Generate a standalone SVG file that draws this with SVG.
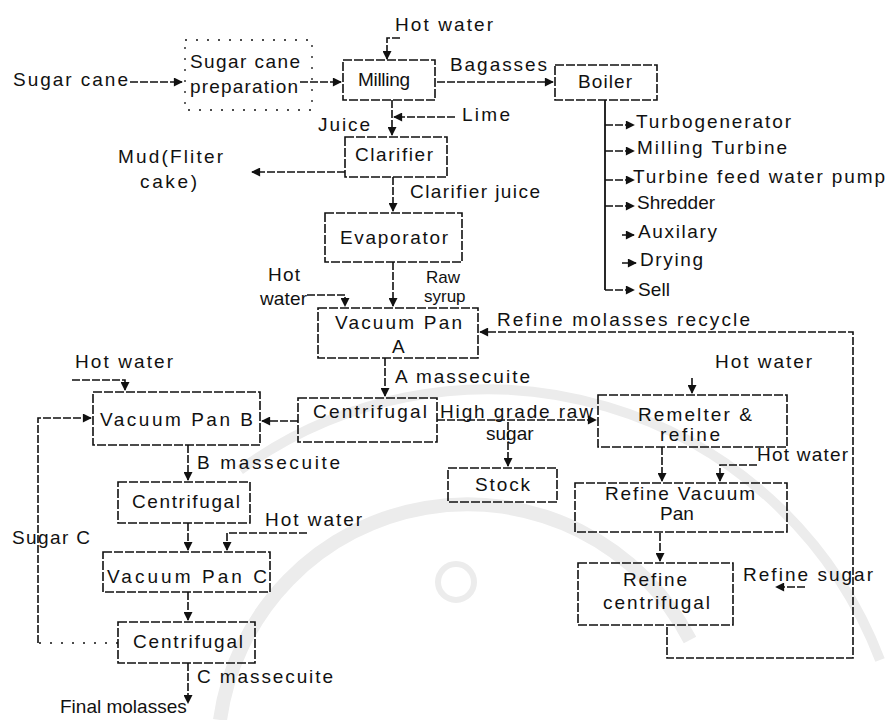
<svg xmlns="http://www.w3.org/2000/svg" width="889" height="720" viewBox="0 0 889 720">
<defs>
<style>
text{font-family:"Liberation Sans",Arial,sans-serif;font-size:19px;fill:#111;}
.sm{font-size:17px;}
.box{fill:none;stroke:#111;stroke-width:1.6;stroke-dasharray:9 2;}
.faint{fill:none;stroke:#111;stroke-width:1.3;stroke-dasharray:2 9;}
.c{fill:none;stroke:#111;stroke-width:1.6;stroke-dasharray:8 2;}
.ca{fill:none;stroke:#111;stroke-width:1.6;stroke-dasharray:8 2;marker-end:url(#ah);}
.s{fill:none;stroke:#111;stroke-width:1.8;}
.wm{fill:none;stroke:#ececec;}
</style>
<marker id="ah" viewBox="0 0 10 10" refX="9" refY="5" markerWidth="10" markerHeight="9" markerUnits="userSpaceOnUse" orient="auto">
<path d="M0,0 L10,5 L0,10 z" fill="#111"/>
</marker>
</defs>
<rect width="889" height="720" fill="#fff"/>

<g id="watermark">
<path class="wm" stroke-width="14" d="M220,720 A250,250 0 0 1 690,640"/>
<path class="wm" stroke-width="10" d="M240,470 A420,420 0 0 1 880,660"/>
<circle class="wm" stroke-width="6" cx="456" cy="582" r="18"/>
</g>

<g id="connectors">
<path class="ca" d="M130,82 H182"/>
<path class="ca" d="M300,82 H341"/>
<path class="ca" d="M400,38 H387 V59"/>
<path class="ca" d="M437,82 H553"/>
<path class="ca" d="M455,117 H394"/>
<path class="ca" d="M392,100 V135"/>
<path class="ca" d="M345,172 H252"/>
<path class="ca" d="M393,177 V211"/>
<path class="s" d="M605,100 V290"/>
<path class="ca" d="M605,125 H634"/>
<path class="ca" d="M605,151 H634"/>
<path class="ca" d="M605,180 H634"/>
<path class="ca" d="M605,206 H634"/>
<path class="ca" d="M622,235 H634"/>
<path class="ca" d="M622,263 H636"/>
<path class="ca" d="M605,290 H634"/>
<path class="ca" d="M393,262 V306"/>
<path class="ca" d="M307,295 H345 V306"/>
<path class="ca" d="M385,358 V396"/>
<path class="ca" d="M298,421 H262"/>
<path class="ca" d="M437,420 H596"/>
<path class="ca" d="M508,422 V466"/>
<path class="ca" d="M692,378 V393"/>
<path class="ca" d="M662,447 V481"/>
<path class="ca" d="M757,465 H720 V481"/>
<path class="ca" d="M660,533 V561"/>
<path class="ca" d="M805,587 H776"/>
<path class="ca" d="M667,627 V658 H853 V332 H480"/>
<path class="ca" d="M188,445 V480"/>
<path class="faint" d="M118,643 H38"/>
<path class="ca" d="M38,643 V418 H91"/>
<path class="ca" d="M72,380 H125 V390"/>
<path class="ca" d="M188,523 V550"/>
<path class="ca" d="M307,533 H227 V550"/>
<path class="ca" d="M188,592 V620"/>
<path class="ca" d="M188,663 V703"/>
</g>

<g id="sugar-cane"><text x="13" y="86" textLength="115">Sugar cane</text></g>
<g id="preparation">
<rect class="faint" x="185" y="40" width="127" height="70"/>
<text x="190" y="68" textLength="110">Sugar cane</text>
<text x="190" y="93" textLength="108">preparation</text>
</g>
<g id="hot-water-milling"><text x="395" y="31" textLength="98">Hot water</text></g>
<g id="milling">
<rect class="box" x="343" y="60" width="92" height="40"/>
<text x="358" y="86" textLength="52">Milling</text>
</g>
<g id="bagasses"><text x="450" y="71" textLength="97">Bagasses</text></g>
<g id="boiler">
<rect class="box" x="555" y="65" width="102" height="35"/>
<text x="578" y="88" textLength="54">Boiler</text>
</g>
<g id="boiler-uses">
<text x="636" y="128" textLength="155">Turbogenerator</text>
<text x="637" y="154" textLength="150">Milling Turbine</text>
<text x="633" y="183" textLength="252">Turbine feed water pump</text>
<text x="637" y="209" textLength="78">Shredder</text>
<text x="638" y="238" textLength="79">Auxilary</text>
<text x="640" y="266" textLength="63">Drying</text>
<text x="638" y="296" textLength="32">Sell</text>
</g>
<g id="lime"><text x="462" y="121" textLength="48">Lime</text></g>
<g id="juice"><text x="318" y="131" textLength="52">Juice</text></g>
<g id="clarifier">
<rect class="box" x="345" y="137" width="102" height="40"/>
<text x="355" y="161" textLength="78">Clarifier</text>
</g>
<g id="mud">
<text x="118" y="163" textLength="105">Mud(Fliter</text>
<text x="140" y="188" textLength="57">cake)</text>
</g>
<g id="clarifier-juice"><text x="410" y="198" textLength="130">Clarifier juice</text></g>
<g id="evaporator">
<rect class="box" x="325" y="213" width="137" height="49"/>
<text x="340" y="244" textLength="108">Evaporator</text>
</g>
<g id="hot-water-a">
<text x="268" y="281" textLength="32">Hot</text>
<text x="260" y="305" textLength="47">water</text>
</g>
<g id="raw-syrup">
<text class="sm" x="426" y="283">Raw</text>
<text class="sm" x="424" y="302">syrup</text>
</g>
<g id="vacuum-pan-a">
<rect class="box" x="318" y="308" width="160" height="50"/>
<text x="335" y="329" textLength="127">Vacuum Pan</text>
<text x="392" y="353">A</text>
</g>
<g id="recycle"><text x="497" y="326" textLength="253">Refine molasses recycle</text></g>
<g id="a-massecuite"><text x="395" y="383" textLength="135">A massecuite</text></g>
<g id="hot-water-b"><text x="75" y="368" textLength="98">Hot water</text></g>
<g id="hot-water-remelter"><text x="715" y="368" textLength="97">Hot water</text></g>
<g id="vacuum-pan-b">
<rect class="box" x="93" y="392" width="167" height="53"/>
<text x="100" y="426" textLength="153">Vacuum Pan B</text>
</g>
<g id="centrifugal-a">
<rect class="box" x="298" y="398" width="139" height="44"/>
<text x="313" y="418" textLength="114">Centrifugal</text>
</g>
<g id="high-grade">
<text x="440" y="418" textLength="153">High grade raw</text>
<text x="486" y="440">sugar</text>
</g>
<g id="remelter">
<rect class="box" x="598" y="395" width="189" height="52"/>
<text x="638" y="421" textLength="114">Remelter &amp;</text>
<text x="660" y="441" textLength="60">refine</text>
</g>
<g id="b-massecuite"><text x="197" y="469" textLength="143">B massecuite</text></g>
<g id="stock">
<rect class="box" x="448" y="468" width="109" height="34"/>
<text x="475" y="491" textLength="55">Stock</text>
</g>
<g id="hot-water-rvp"><text x="757" y="461" textLength="91">Hot water</text></g>
<g id="refine-vacuum-pan">
<rect class="box" x="575" y="483" width="212" height="49"/>
<text x="605" y="500" textLength="150">Refine Vacuum</text>
<text x="660" y="520">Pan</text>
</g>
<g id="centrifugal-b">
<rect class="box" x="118" y="482" width="132" height="41"/>
<text x="132" y="508" textLength="108">Centrifugal</text>
</g>
<g id="hot-water-c"><text x="265" y="526" textLength="97">Hot water</text></g>
<g id="sugar-c"><text x="12" y="544" textLength="78">Sugar C</text></g>
<g id="vacuum-pan-c">
<rect class="box" x="103" y="552" width="167" height="40"/>
<text x="107" y="583" textLength="160">Vacuum Pan C</text>
</g>
<g id="refine-centrifugal">
<rect class="box" x="578" y="563" width="155" height="62"/>
<text x="623" y="586" textLength="64">Refine</text>
<text x="603" y="609" textLength="107">centrifugal</text>
</g>
<g id="refine-sugar"><text x="743" y="581" textLength="130">Refine sugar</text></g>
<g id="centrifugal-c">
<rect class="box" x="118" y="622" width="137" height="41"/>
<text x="133" y="648" textLength="110">Centrifugal</text>
</g>
<g id="c-massecuite"><text x="197" y="683" textLength="136">C massecuite</text></g>
<g id="final-molasses"><text x="60" y="713">Final molasses</text></g>
</svg>
